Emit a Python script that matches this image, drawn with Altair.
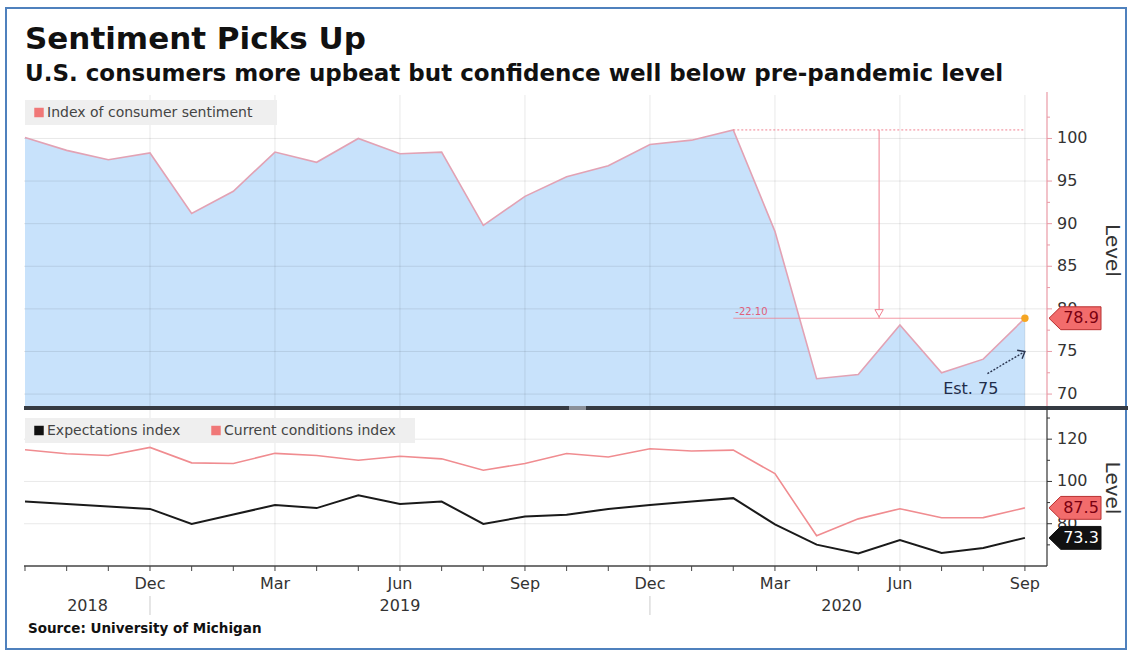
import altair as alt
import pandas as pd

# ---------------- data ----------------
month_names = ["Sep", "Oct", "Nov", "Dec", "Jan", "Feb", "Mar", "Apr", "May", "Jun", "Jul", "Aug"]
month_idx = list(range(25))  # Sep 2018 ... Sep 2020
sentiment = [100.1, 98.6, 97.5, 98.3, 91.2, 93.8, 98.4, 97.2, 100.0, 98.2, 98.4, 89.8,
             93.2, 95.5, 96.8, 99.3, 99.8, 101.0, 89.1, 71.8, 72.3, 78.1, 72.5, 74.1, 78.9]
current_cond = [115.0, 113.1, 112.3, 116.1, 108.8, 108.5, 113.3, 112.3, 110.0, 111.9, 110.7, 105.3,
                108.5, 113.2, 111.6, 115.5, 114.4, 114.8, 103.7, 74.3, 82.3, 87.1, 82.8, 82.9, 87.5]
expectations = [90.5, 89.3, 88.1, 87.0, 79.9, 84.4, 88.8, 87.4, 93.5, 89.3, 90.5, 79.9,
                83.4, 84.2, 87.0, 88.9, 90.5, 92.1, 79.7, 70.1, 65.9, 72.3, 66.2, 68.5, 73.3]
top_labels = [70, 75, 80, 85, 90, 95, 100]
top_minor = [72.5, 77.5, 82.5, 87.5, 92.5, 97.5, 102.5]
bottom_labels = [80, 100, 120]
bottom_minor = [70, 90, 110, 130]
labeled_months = [3, 6, 9, 12, 15, 18, 21, 24]
years = ["2018", "2019", "2020"]
year_center_month = [1.5, 9, 19.6]
year_breaks = [3, 15]
peak_month = 17
last_month = 24
drop_marker_month = 20.5
est_value = 75
est_arrow_from = [23.1, 72.4]
est_text_at = [22.7, 70.0]

peak = sentiment[peak_month]
latest = sentiment[last_month]

# ---------------- styling ----------------
FONT = "DejaVu Sans"
W = 1023
H1 = 311
H2 = 156
PINK_LINE = "#e2a2b4"
AREA_BLUE = "#c8e2fb"
ANNO = "#f08090"
GRID = "#000000"
AXIS_PINK = "#e99aa6"
TXT = "#333333"

xs = alt.Scale(domain=[-0.024, 24.53], nice=False, zero=False)
ys1 = alt.Scale(domain=[68.6, 105.1], nice=False, zero=False)
ys2 = alt.Scale(domain=[60, 133.8], nice=False, zero=False)

one = pd.DataFrame({"a": [0]})
df = pd.DataFrame({"m": month_idx, "sent": sentiment, "cur": current_cond, "exp": expectations})


def X(field="m:Q"):
    return alt.X(field, scale=xs, axis=None)


def Y(field, scale):
    return alt.Y(field, scale=scale, axis=None)


def text_layer(s, size, x, y, weight="normal", color="#111", align="left", baseline="alphabetic", angle=0):
    return alt.Chart(pd.DataFrame({"t": [s]})).mark_text(
        font=FONT, fontSize=size, fontWeight=weight, color=color, align=align,
        baseline=baseline, angle=angle).encode(x=alt.value(x), y=alt.value(y), text="t:N")


def right_axis(labels, minor, scale, height, color):
    dom = alt.Chart(one).mark_rule(color=color, strokeWidth=1.2).encode(
        x=alt.value(W), y=alt.value(-3), y2=alt.value(height))
    major = alt.Chart(pd.DataFrame({"v": labels})).mark_rule(color=color).encode(
        x=alt.value(W), x2=alt.value(W + 5), y=Y("v:Q", scale))
    mnr = alt.Chart(pd.DataFrame({"v": minor})).mark_rule(color=color).encode(
        x=alt.value(W), x2=alt.value(W + 3), y=Y("v:Q", scale))
    lab = alt.Chart(pd.DataFrame({"v": labels})).mark_text(
        font=FONT, fontSize=16, color=TXT, align="left", baseline="middle").encode(
        x=alt.value(W + 10), y=Y("v:Q", scale), text=alt.Text("v:Q", format="d"))
    ttl = text_layer("Level", 20, W + 65, height / 2, color=TXT, align="center",
                     baseline="middle", angle=90)
    return [dom, major, mnr, lab, ttl]


tag_path = "M -1 0 L -0.55 -0.44 L 1 -0.44 L 1 0.44 L -0.55 0.44 Z"


def tag(value, yscale, fill, stroke, text_color):
    d = pd.DataFrame({"v": [value], "t": ["%.1f" % value]})
    b = alt.Chart(d)
    s = b.mark_point(shape=tag_path, size=2704, filled=True, fill=fill, stroke=stroke,
                     strokeWidth=1, opacity=1).encode(x=alt.value(W + 28), y=Y("v:Q", yscale))
    t = b.mark_text(font=FONT, fontSize=16, color=text_color, align="center",
                    baseline="middle").encode(x=alt.value(W + 34), y=Y("v:Q", yscale), text="t:N")
    return [s, t]


# ---------------- top panel ----------------
border = alt.Chart(one).mark_rect(fillOpacity=0, stroke="#4f81bd", strokeWidth=2).encode(
    x=alt.value(-18), x2=alt.value(1102), y=alt.value(-87), y2=alt.value(554))

title = text_layer("Sentiment Picks Up", 31, 1, -46, weight="bold")
subtitle = text_layer("U.S. consumers more upbeat but confidence well below pre-pandemic level",
                      23, 1, -14, weight="bold")

area = alt.Chart(df).mark_area(color=AREA_BLUE, clip=True).encode(x=X(), y=Y("sent:Q", ys1))

hgrid1 = alt.Chart(pd.DataFrame({"v": top_labels})).mark_rule(color=GRID, opacity=0.09).encode(
    y=Y("v:Q", ys1))
vgrid1 = alt.Chart(pd.DataFrame({"m": labeled_months})).mark_rule(color=GRID, opacity=0.09).encode(
    x=X())

sent_line = alt.Chart(df).mark_line(color=PINK_LINE, strokeWidth=1.6).encode(
    x=X(), y=Y("sent:Q", ys1))

anno_df = pd.DataFrame({"m": [peak_month], "m2": [last_month], "hi": [peak], "lo": [latest],
                        "mm": [drop_marker_month], "lab": ["%.2f" % (latest - peak)]})
anno_b = alt.Chart(anno_df)
top_dotted = anno_b.mark_rule(color=ANNO, strokeWidth=1, strokeDash=[2, 2]).encode(
    x=X(), x2="m2:Q", y=Y("hi:Q", ys1))
low_line = anno_b.mark_rule(color=ANNO, strokeWidth=1, opacity=0.8).encode(
    x=X(), x2="m2:Q", y=Y("lo:Q", ys1))
vert = anno_b.mark_rule(color=ANNO, strokeWidth=1).encode(
    x=X("mm:Q"), y=Y("hi:Q", ys1), y2=alt.Y2("lo:Q"))
tri = anno_b.mark_point(shape="triangle-down", size=70, filled=True, fill="white",
                        stroke=ANNO, strokeWidth=1, opacity=1, yOffset=-5).encode(
    x=X("mm:Q"), y=Y("lo:Q", ys1))
drop_txt = anno_b.mark_text(font=FONT, fontSize=10, color="#e0607a", align="left",
                            baseline="bottom", dx=2, dy=-1).encode(
    x=X(), y=Y("lo:Q", ys1), text="lab:N")

dot = alt.Chart(pd.DataFrame({"m": [last_month], "v": [latest]})).mark_point(
    filled=True, color="#f5a623", size=55, opacity=1).encode(x=X(), y=Y("v:Q", ys1))

est_df = pd.DataFrame({"m": [est_arrow_from[0]], "v": [est_arrow_from[1]],
                       "m2": [last_month], "v2": [est_value],
                       "tm": [est_text_at[0]], "tv": [est_text_at[1]],
                       "t": ["Est. %d" % est_value]})
est_b = alt.Chart(est_df)
est_line = est_b.mark_rule(color="#2a3550", strokeWidth=1.4, strokeDash=[2, 1.5]).encode(
    x=X(), x2="m2:Q", y=Y("v:Q", ys1), y2="v2:Q")
est_head = est_b.mark_point(shape="M -1 -0.8 L 0 0 L -1 0.8", size=150, filled=False,
                            stroke="#2a3550", strokeWidth=1.4, angle=330, opacity=1).encode(
    x=X("m2:Q"), y=Y("v2:Q", ys1))
est_txt = est_b.mark_text(font=FONT, fontSize=16, color="#1f2d4a", align="center",
                          baseline="alphabetic").encode(
    x=X("tm:Q"), y=Y("tv:Q", ys1), text="t:N")

leg1_bg = alt.Chart(one).mark_rect(color="#efefef").encode(
    x=alt.value(1), x2=alt.value(253), y=alt.value(5), y2=alt.value(30))
leg1_sq = alt.Chart(one).mark_square(color="#f07878", size=90, opacity=1).encode(
    x=alt.value(15), y=alt.value(17.5))
leg1_tx = text_layer("Index of consumer sentiment", 14, 23, 17.5, color="#444", baseline="middle")

sep = alt.Chart(one).mark_rule(color="#353a42", strokeWidth=4).encode(
    x=alt.value(0), x2=alt.value(1104), y=alt.value(H1 + 2))
sep_handle = alt.Chart(one).mark_rule(color="#8a9099", strokeWidth=4).encode(
    x=alt.value(545), x2=alt.value(562), y=alt.value(H1 + 2))

top = alt.layer(
    border, title, subtitle, area, hgrid1, vgrid1, sent_line,
    *right_axis(top_labels, top_minor, ys1, H1, AXIS_PINK),
    top_dotted, low_line, vert, tri, drop_txt, dot, est_line, est_head, est_txt,
    leg1_bg, leg1_sq, leg1_tx, *tag(latest, ys1, "#f26c6c", "#b83030", "#7a0010"),
    sep, sep_handle
).properties(width=W, height=H1)

# ---------------- bottom panel ----------------
hgrid2 = alt.Chart(pd.DataFrame({"v": bottom_labels})).mark_rule(color=GRID, opacity=0.09).encode(
    y=Y("v:Q", ys2))
vgrid2 = alt.Chart(pd.DataFrame({"m": labeled_months})).mark_rule(color=GRID, opacity=0.09).encode(
    x=X())
cur_line = alt.Chart(df).mark_line(color="#f08c90", strokeWidth=1.6).encode(
    x=X(), y=Y("cur:Q", ys2))
exp_line = alt.Chart(df).mark_line(color="#1a1a1a", strokeWidth=2).encode(
    x=X(), y=Y("exp:Q", ys2))

x_dom = alt.Chart(one).mark_rule(color="#444", strokeWidth=1.5).encode(
    x=alt.value(0), x2=alt.value(W), y=alt.value(H2))
x_ticks = alt.Chart(pd.DataFrame({"m": month_idx})).mark_rule(color="#444").encode(
    x=X(), y=alt.value(H2), y2=alt.value(H2 + 5))
x_labels = alt.Chart(pd.DataFrame({"m": labeled_months,
                                   "t": [month_names[m % 12] for m in labeled_months]})).mark_text(
    font=FONT, fontSize=16, color=TXT, align="center", baseline="alphabetic").encode(
    x=X(), y=alt.value(H2 + 23), text="t:N")

leg2_bg = alt.Chart(one).mark_rect(color="#efefef").encode(
    x=alt.value(1), x2=alt.value(391), y=alt.value(8), y2=alt.value(33))
leg2_sq1 = alt.Chart(one).mark_square(color="#111", size=90, opacity=1).encode(
    x=alt.value(15), y=alt.value(20.5))
leg2_tx1 = text_layer("Expectations index", 14, 23, 20.5, color="#444", baseline="middle")
leg2_sq2 = alt.Chart(one).mark_square(color="#f07878", size=90, opacity=1).encode(
    x=alt.value(192), y=alt.value(20.5))
leg2_tx2 = text_layer("Current conditions index", 14, 200, 20.5, color="#444", baseline="middle")

year_txt = alt.Chart(pd.DataFrame({"m": year_center_month, "t": years})).mark_text(
    font=FONT, fontSize=16, color=TXT, align="center", baseline="alphabetic").encode(
    x=X(), y=alt.value(201), text="t:N")
year_sep = alt.Chart(pd.DataFrame({"m": year_breaks})).mark_rule(color="#cccccc").encode(
    x=X(), y=alt.value(186), y2=alt.value(205))
source = text_layer("Source: University of Michigan", 13.5, 4, 223, weight="bold")

bottom = alt.layer(
    hgrid2, vgrid2, cur_line, exp_line, x_dom, x_ticks, x_labels,
    *right_axis(bottom_labels, bottom_minor, ys2, H2, "#333333"),
    leg2_bg, leg2_sq1, leg2_tx1, leg2_sq2, leg2_tx2,
    *tag(current_cond[-1], ys2, "#f26c6c", "#b83030", "#7a0010"),
    *tag(expectations[-1], ys2, "#111111", "#111111", "#ffffff"),
    year_txt, year_sep, source
).properties(width=W, height=H2)

chart = alt.vconcat(top, bottom, spacing=4, bounds="flush").resolve_scale(
    x="independent", y="independent"
).properties(
    padding={"left": 5, "top": 7, "right": 0, "bottom": 0}, background="white"
).configure(font=FONT).configure_view(strokeWidth=0, stroke=None)

chart.save("out.html", embed_options={"renderer": "svg", "actions": False})
